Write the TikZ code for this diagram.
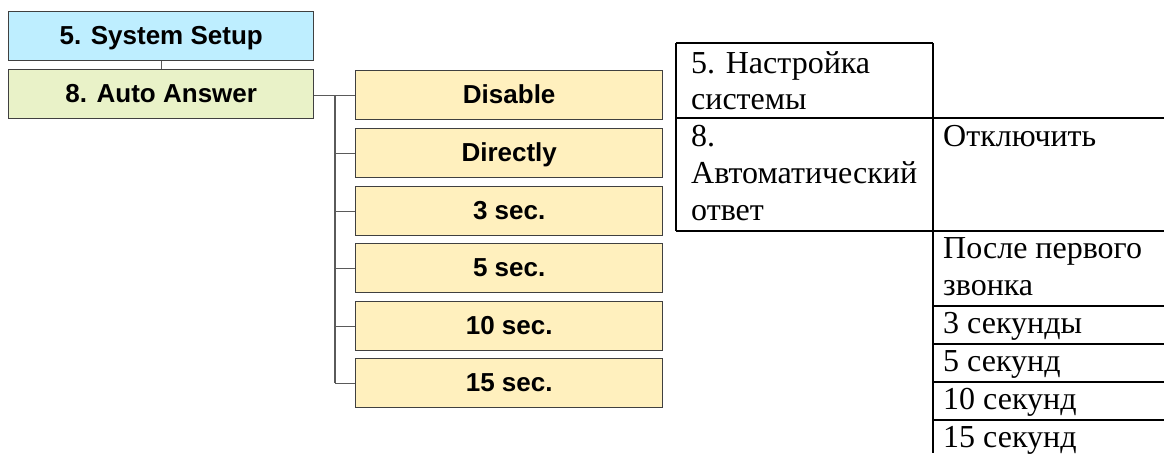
\documentclass[tikz,border=0pt]{standalone}
\usepackage{fontspec}
\newfontfamily\lsans{Liberation Sans}
\newfontfamily\lserif{Liberation Serif}
\definecolor{cyanbox}{RGB}{190,238,255}
\definecolor{greenbox}{RGB}{233,242,200}
\definecolor{yellowbox}{RGB}{255,240,190}
\definecolor{boxedge}{RGB}{64,64,64}
\definecolor{wire}{RGB}{90,90,90}
\tikzset{
  menubox/.style={draw=boxedge, line width=1.4pt, rectangle, anchor=north west,
    minimum width=305pt, minimum height=49pt, inner sep=0pt,
    font=\lsans\bfseries\fontsize{26}{30}\selectfont, text height=19pt, text depth=3pt},
  childbox/.style={menubox, fill=yellowbox, minimum width=307pt},
  wireline/.style={draw=wire, line width=1.4pt},
  gridline/.style={draw=black, line width=1.8pt},
  celltext/.style={anchor=base west, inner sep=0pt, font=\lserif\fontsize{32}{37}\selectfont}
}
\begin{document}
\begin{tikzpicture}[x=1pt,y=-1pt]
\useasboundingbox (0,0) rectangle (1164,453);
% left menu tree
\node[menubox, fill=cyanbox] (ss) at (8,11) {5. System Setup};
\node[menubox, fill=greenbox] (aa) at (8,69) {8. Auto Answer};
\node[childbox] (c1) at (355,70) {Disable};
\node[childbox] (c2) at (355,128) {Directly};
\node[childbox] (c3) at (355,186) {3 sec.};
\node[childbox] (c4) at (355,243) {5 sec.};
\node[childbox] (c5) at (355,301) {10 sec.};
\node[childbox] (c6) at (355,358) {15 sec.};
\coordinate (trunk) at (335,0);
\draw[wireline] (ss.south) -- (aa.north);
\draw[wireline] (aa.east |- c1.west) -- (c1.west);
\draw[wireline] (trunk |- c1.west) -- (trunk |- c6.west);
\foreach \c in {c2,c3,c4,c5,c6}
  \draw[wireline] (trunk |- \c.west) -- (\c.west);
% table
\draw[gridline] (676,43) -- (933,43);
\draw[gridline] (676,43) -- (676,231);
\draw[gridline] (933,43) -- (933,453);
\draw[gridline] (676,118) -- (1164,118);
\draw[gridline] (676,231) -- (1164,231);
\foreach \yy in {306,344,382,420}
  \draw[gridline] (933,\yy) -- (1164,\yy);
\node[celltext] (t1a) at (691,73) {5. Настройка};
\node[celltext] (t1b) at (691,109) {системы};
\node[celltext] (t2a) at (691,146) {8.};
\node[celltext] (t2b) at (691,183) {Автоматический};
\node[celltext] (t2c) at (691,220) {ответ};
\node[celltext] (r1) at (943,146) {Отключить};
\node[celltext] (r2a) at (943,258) {После первого};
\node[celltext] (r2b) at (943,295) {звонка};
\node[celltext] (r3) at (943,333) {3 секунды};
\node[celltext] (r4) at (943,371) {5 секунд};
\node[celltext] (r5) at (943,409) {10 секунд};
\node[celltext] (r6) at (943,447) {15 секунд};
\end{tikzpicture}
\end{document}
